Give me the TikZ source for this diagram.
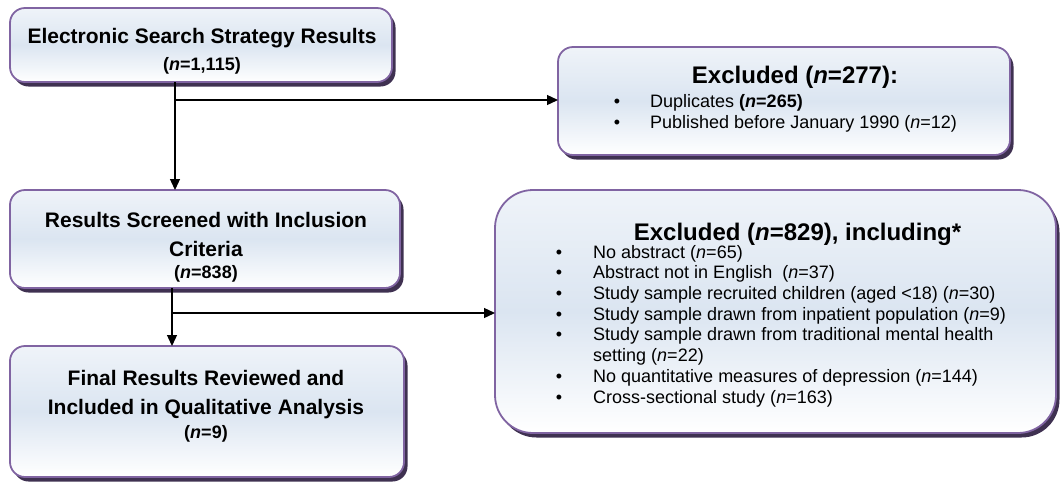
\documentclass[tikz,border=0pt]{standalone}
\usepackage{fontspec}
\setmainfont{Liberation Sans}
\usetikzlibrary{arrows.meta,shadows}
\definecolor{bordercol}{HTML}{8064A2}
\definecolor{shadowcol}{HTML}{3F3151}
\definecolor{fillmid}{HTML}{DBE5F1}
\tikzset{
  box/.style={draw=bordercol, line width=1.8pt, rounded corners=15pt,
    top color=fillmid!45!white, bottom color=white, middle color=fillmid,
    inner sep=0pt, outer sep=0pt,
    drop shadow={shadow xshift=3.5pt, shadow yshift=-4.5pt, fill=shadowcol, opacity=1}},
  bigtitle/.style={anchor=base, inner sep=0pt, font=\bfseries\fontsize{21}{25}\selectfont},
  exctitle/.style={anchor=base, inner sep=0pt, font=\bfseries\fontsize{24}{28}\selectfont},
  nline/.style={anchor=base, inner sep=0pt, font=\bfseries\fontsize{18}{21}\selectfont},
  item/.style={anchor=base west, inner sep=0pt, font=\fontsize{18}{21}\selectfont},
  bullet/.style={anchor=base, inner sep=0pt, font=\fontsize{18}{21}\selectfont},
  conn/.style={draw=black, line width=1.3pt, -{Triangle[length=11pt,width=10pt]}}
}
\begin{document}
\begin{tikzpicture}[x=1pt,y=-1pt]
\useasboundingbox (0,0) rectangle (1061,483);
% boxes
\node[box, minimum width=382pt, minimum height=74pt] (b1) at (201,45) {};
\node[box, minimum width=452pt, minimum height=108pt] (b2) at (784,101) {};
\node[box, minimum width=390pt, minimum height=98pt] (b3) at (205,239) {};
\node[box, minimum width=561pt, minimum height=243pt, rounded corners=38pt] (b4) at (775.5,311.5) {};
\node[box, minimum width=394pt, minimum height=131pt] (b5) at (207,411.5) {};
% box 1 text
\node[bigtitle] (t1a) at (202,43) {Electronic Search Strategy Results};
\node[nline] (t1b) at (202,70) {(\textit{n}=1,115)};
% box 2 text
\node[exctitle] (t2a) at (795,83) {Excluded (\textit{n}=277):};
\node[bullet] (u2a) at (617,107) {•};
\node[item] (t2b) at (650,107) {Duplicates \textbf{(\textit{n}=265)}};
\node[bullet] (u2b) at (617,128) {•};
\node[item] (t2c) at (650,128) {Published before January 1990 (\textit{n}=12)};
% box 3 text
\node[bigtitle] (t3a) at (206,227) {Results Screened with Inclusion};
\node[bigtitle] (t3b) at (206,256) {Criteria};
\node[nline] (t3c) at (206,278) {(\textit{n}=838)};
% box 4 text
\node[exctitle] (t4a) at (797.5,240) {Excluded (\textit{n}=829), including*};
\foreach \yy/\txt [count=\i] in {
  258/{No abstract (\textit{n}=65)},
  278.5/{Abstract not in English\ \ (\textit{n}=37)},
  299.5/{Study sample recruited children (aged <18) (\textit{n}=30)},
  320/{Study sample drawn from inpatient population (\textit{n}=9)},
  340.5/{Study sample drawn from traditional mental health},
  382/{No quantitative measures of depression (\textit{n}=144)},
  403/{Cross-sectional study (\textit{n}=163)}}{
  \node[bullet] (u4\i) at (559,\yy) {•};
  \node[item] (t4\i) at (593,\yy) {\txt};
}
\node[item] (t4s) at (593,361.5) {setting (\textit{n}=22)};
% box 5 text
\node[bigtitle] (t5a) at (206,385) {Final Results Reviewed and};
\node[bigtitle] (t5b) at (206,414) {Included in Qualitative Analysis};
\node[nline] (t5c) at (206,438) {(\textit{n}=9)};
% connectors
\coordinate (j1) at (175,100);
\coordinate (j2) at (172,313);
\draw[conn] (b1.south -| j1) -- (b3.north -| j1);
\draw[conn] (j1) -- (b2.west |- j1);
\draw[conn] (b3.south -| j2) -- (b5.north -| j2);
\draw[conn] (j2) -- (b4.west |- j2);
\end{tikzpicture}
\end{document}
